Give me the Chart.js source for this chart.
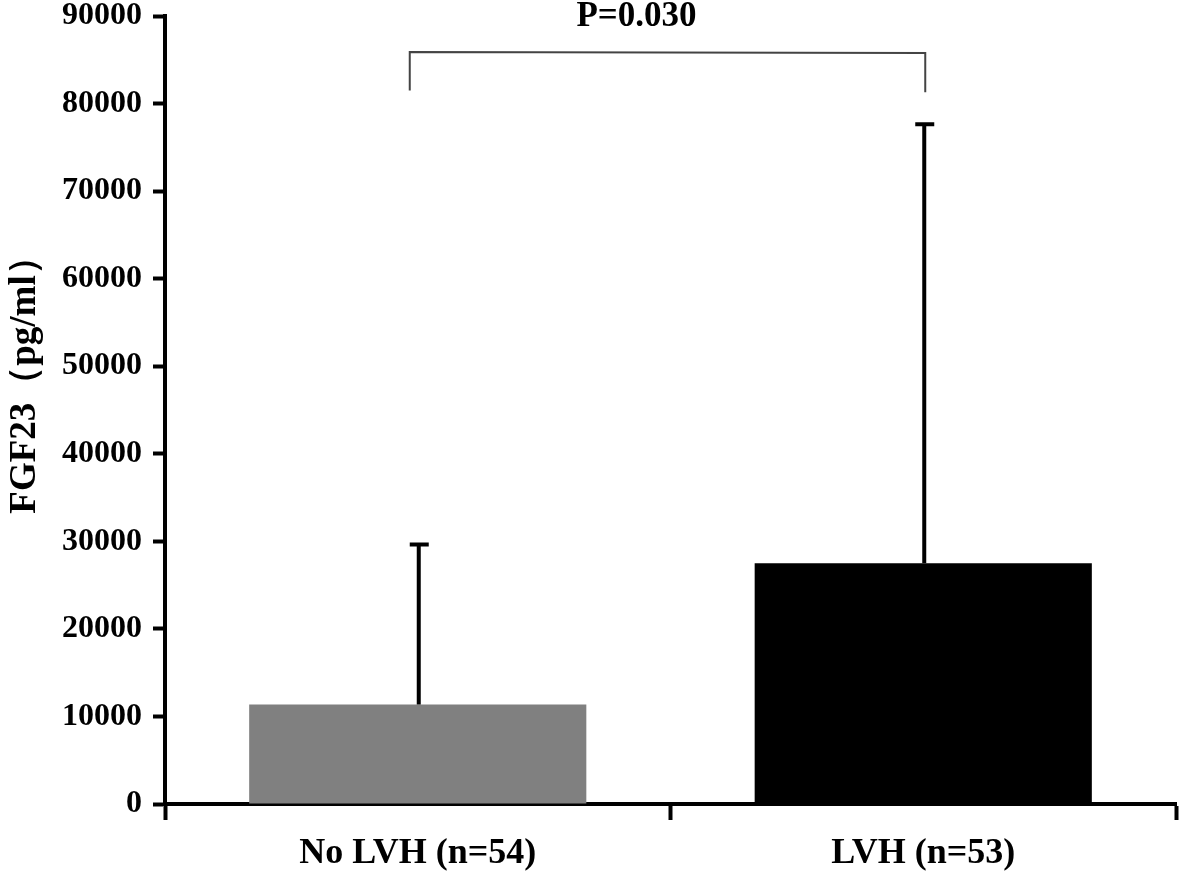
<!DOCTYPE html>
<html>
<head>
<meta charset="utf-8">
<title>FGF23</title>
<script src="https://cdn.jsdelivr.net/npm/chart.js"></script>
<style>
  html, body { margin: 0; padding: 0; background: #fff; }
  #wrap { width: 1181px; height: 875px; position: relative; }
</style>
</head>
<body>
<div id="wrap"><canvas id="barChart"></canvas></div>
<script>
// datos
const categories = ['No LVH (n=54)', 'LVH (n=53)'];
const meanValues = [11350, 27500];
const errorTops = [29650, 77650];   // media + DE
const barColors = ['#808080', '#000000'];
const yMax = 90000;
const yStep = 10000;
const pLabel = 'P=0.030';
const bracketTop = 85900;
const bracketLegs = [81500, 81300];
const yTitle = 'FGF23（pg/ml）';

const SERIF = '"Times New Roman", "Liberation Serif", "DejaVu Serif", serif';

const extras = {
  id: 'extras',
  afterDatasetsDraw(chart) {
    const ctx = chart.ctx;
    const y = chart.scales.y;
    const meta = chart.getDatasetMeta(0);

    // barras de error (solo hacia arriba)
    ctx.save();
    ctx.strokeStyle = '#000';
    ctx.lineWidth = 4;
    meta.data.forEach((bar, i) => {
      const cx = bar.x + 1;
      const yTop = y.getPixelForValue(errorTops[i]);
      ctx.beginPath();
      ctx.moveTo(cx, bar.y);
      ctx.lineTo(cx, yTop);
      ctx.moveTo(cx - 9, yTop);
      ctx.lineTo(cx + 10, yTop);
      ctx.stroke();
    });
    ctx.restore();

    // corchete de significancia
    const x1 = meta.data[0].x - 8;
    const x2 = meta.data[1].x + 2;
    const yb = y.getPixelForValue(bracketTop);
    ctx.save();
    ctx.strokeStyle = '#444';
    ctx.lineWidth = 2;
    ctx.beginPath();
    ctx.moveTo(x1, y.getPixelForValue(bracketLegs[0]));
    ctx.lineTo(x1, yb);
    ctx.lineTo(x2, yb + 1);
    ctx.lineTo(x2, y.getPixelForValue(bracketLegs[1]));
    ctx.stroke();

    ctx.fillStyle = '#000';
    ctx.font = 'bold 35px ' + SERIF;
    ctx.textAlign = 'center';
    ctx.textBaseline = 'alphabetic';
    ctx.fillText(pLabel, (x1 + x2) / 2 - 31, 26);
    ctx.restore();

    // título del eje Y
    ctx.save();
    ctx.translate(35, 376);
    ctx.rotate(-Math.PI / 2);
    ctx.fillStyle = '#000';
    ctx.font = 'bold 37px ' + SERIF;
    ctx.textAlign = 'center';
    ctx.textBaseline = 'alphabetic';
    ctx.fillText(yTitle, 0, 0);
    ctx.restore();
  }
};

new Chart(document.getElementById('barChart').getContext('2d'), {
  type: 'bar',
  data: {
    labels: categories,
    datasets: [{
      data: meanValues,
      backgroundColor: barColors,
      borderWidth: 0,
      barPercentage: 0.667,
      categoryPercentage: 1.0
    }]
  },
  options: {
    responsive: true,
    maintainAspectRatio: false,
    animation: false,
    layout: { padding: { top: 16, right: 5, left: 0, bottom: 0 } },
    plugins: { legend: { display: false }, tooltip: { enabled: false } },
    scales: {
      x: {
        offset: true,
        grid: {
          offset: true,
          drawOnChartArea: false,
          drawTicks: true,
          tickLength: 16,
          tickWidth: 4,
          tickColor: '#000'
        },
        border: { display: true, color: '#000', width: 4 },
        ticks: {
          color: '#000',
          padding: 12,
          font: { family: SERIF, size: 36, weight: 'bold' }
        },
        afterFit(s) { s.height = 71; }
      },
      y: {
        min: 0,
        max: yMax,
        grid: {
          drawOnChartArea: false,
          drawTicks: true,
          tickLength: 12,
          tickWidth: 4,
          tickColor: '#000'
        },
        border: { display: true, color: '#000', width: 4 },
        ticks: {
          stepSize: yStep,
          color: '#000',
          padding: 11,
          font: { family: SERIF, size: 32, weight: 'bold' },
          callback: v => String(v)
        },
        afterFit(s) { s.width = 165; s.paddingTop = 0; s.paddingBottom = 0; }
      }
    }
  },
  plugins: [extras]
});
</script>
</body>
</html>
